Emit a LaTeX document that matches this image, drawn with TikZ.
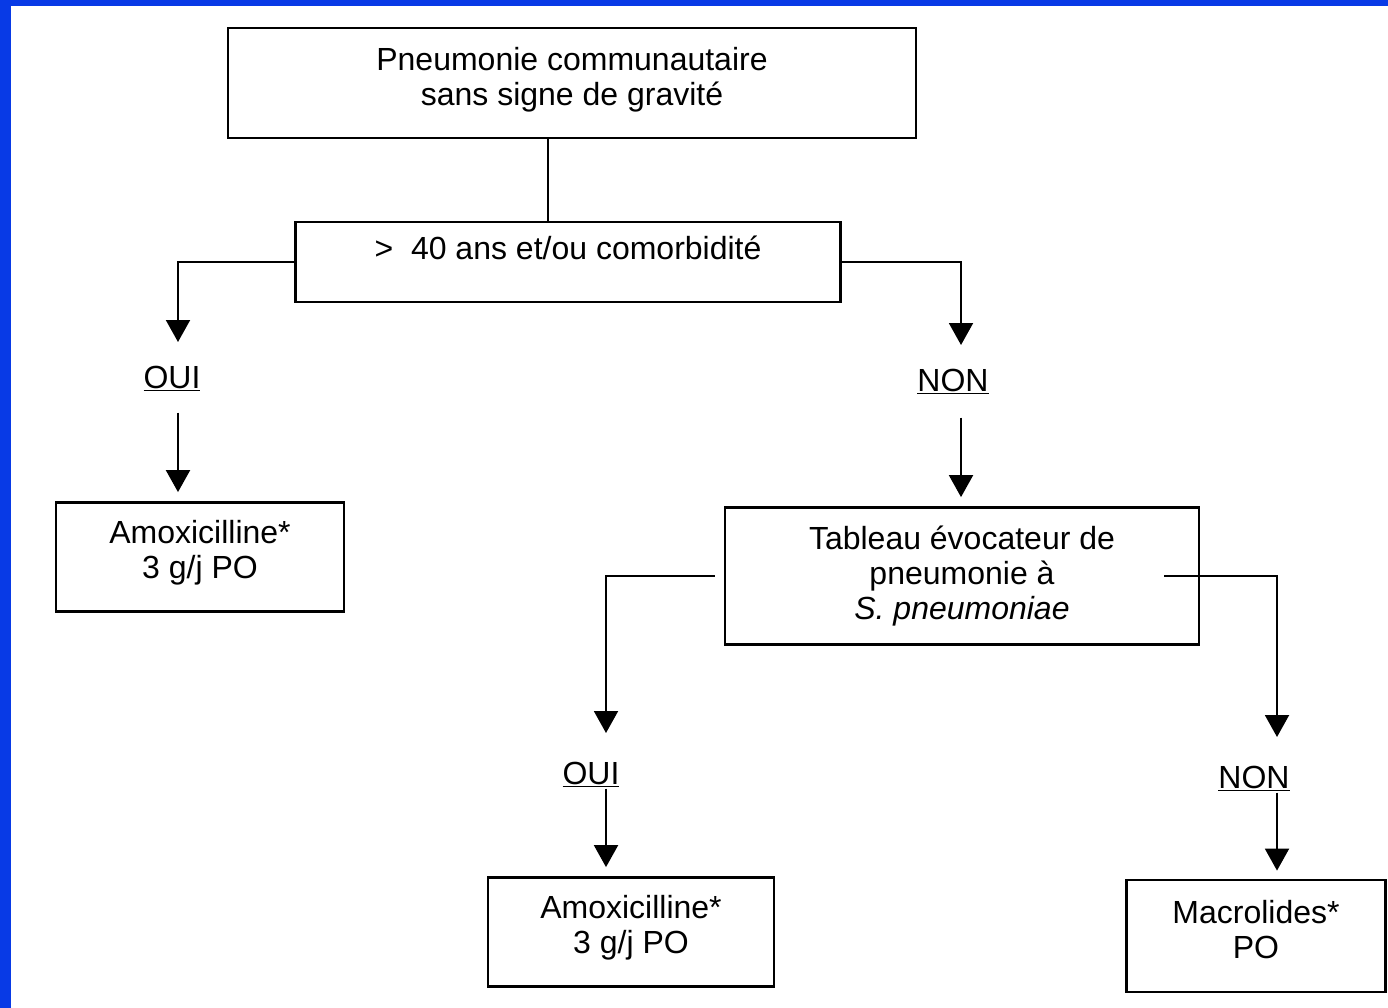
\documentclass[tikz,border=0pt]{standalone}
\usepackage{fontspec}
\setmainfont{Liberation Sans}
\usetikzlibrary{arrows.meta}

\begin{document}
\begin{tikzpicture}[x=1pt, y=-1pt, >={Triangle[width=24pt,length=22pt]},
  box/.style={draw, line width=2.8pt, align=center, inner sep=0pt, font=\fontsize{32}{35}\selectfont},
  choice/.style={inner sep=2pt, font=\fontsize{32}{35}\selectfont},
  link/.style={line width=2pt}]

\definecolor{slideblue}{RGB}{8, 58, 230}

% Slide frame
\useasboundingbox (0, 0) rectangle (1388, 1008);
\fill[white] (0, 0) rectangle (1388, 1008);
\fill[slideblue] (0, 0) rectangle (11, 1008);
\fill[slideblue] (0, 0) rectangle (1388, 6);

% Boxes
\node[box, minimum width=688pt, minimum height=110pt, text depth=13pt] (start) at (572, 83) {Pneumonie communautaire\\sans signe de gravité};
\node[box, minimum width=545pt, minimum height=80pt, text depth=28pt] (age) at (568, 262) {>\ \ 40 ans et/ou comorbidité};
\node[box, minimum width=288pt, minimum height=109pt, text depth=16pt] (amoxA) at (200, 557) {Amoxicilline*\\3 g/j PO};
\node[box, minimum width=474pt, minimum height=137pt] (tableau) at (962, 576) {Tableau évocateur de\\pneumonie à\\\textit{S. pneumoniae}};
\node[box, minimum width=286pt, minimum height=109pt, text depth=16pt] (amoxB) at (631, 932) {Amoxicilline*\\3 g/j PO};
\node[box, minimum width=259pt, minimum height=112pt, text depth=14pt] (macro) at (1256, 936) {Macrolides*\\PO};

% Answers
\node[choice] (ouiA) at (172, 378) {\underline{OUI}};
\node[choice] (nonA) at (953, 381) {\underline{NON}};
\node[choice] (ouiB) at (591, 774) {\underline{OUI}};
\node[choice] (nonB) at (1254, 778) {\underline{NON}};

% Arrow tips above the answers
\coordinate (tipA) at (178, 342);
\coordinate (tipB) at (961, 345);
\coordinate (tipC) at (606, 733);
\coordinate (tipD) at (1277, 737);

% Connectors
\draw[link] ([xshift=-24pt]start.south) -- ([xshift=-24pt]start.south |- age.north);
\draw[link, ->] (age.west) -| (tipA);
\draw[link, ->] (age.east) -| (tipB);
\draw[link, ->] ([xshift=-9pt]tableau.west) -| (tipC);
\draw[link, ->] ([xshift=-36pt]tableau.east) -| (tipD);

\draw[link, ->, shorten <=20pt, shorten >=9pt] (ouiA.south -| tipA) -- (tipA |- amoxA.north);
\draw[link, ->, shorten <=22pt, shorten >=9pt] (nonA.south -| tipB) -- (tipB |- tableau.north);
\draw[link, ->, shorten >=9pt] (ouiB.south -| tipC) -- (tipC |- amoxB.north);
\draw[link, ->, shorten >=8pt] (nonB.south -| tipD) -- (tipD |- macro.north);

\end{tikzpicture}
\end{document}
